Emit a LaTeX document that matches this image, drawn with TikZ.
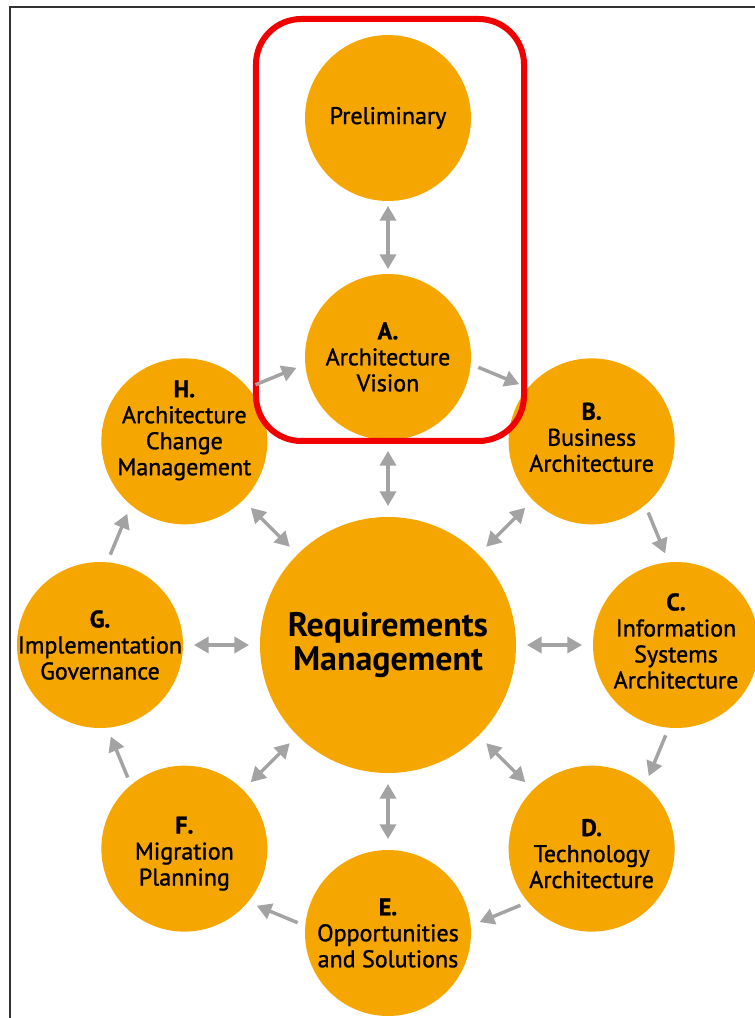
\documentclass[tikz,border=0pt]{standalone}
\usepackage{fontspec}
\setmainfont{PT Sans}
\newfontfamily\phasefont{PT Sans}[FakeBold=1.2]
\usepackage{tikz}
\usetikzlibrary{positioning}
\usetikzlibrary{arrows.meta, calc}

\definecolor{phaseorange}{RGB}{246,166,0}
\definecolor{arrowgray}{RGB}{163,163,163}
\definecolor{focusred}{RGB}{240,0,0}

\tikzset{
    phase/.style={circle, fill=phaseorange, minimum size=124.5pt, inner sep=0pt},
    hub/.style={circle, fill=phaseorange, minimum size=192pt, inner sep=0pt},
    phasetext/.style={align=center, font=\phasefont\fontsize{18}{19.5}\selectfont},
    hubtext/.style={align=center, font=\bfseries\fontsize{25.5}{25.5}\selectfont},
    flow/.style={draw=arrowgray, line width=2.6pt, -{Triangle[length=11pt,width=12pt]},
        shorten <=6pt, shorten >=7pt},
    spoke/.style={draw=arrowgray, line width=2.6pt,
        {Triangle[length=11pt,width=12pt]}-{Triangle[length=11pt,width=12pt]},
        shorten <=8pt, shorten >=8pt}
}

\begin{document}
\begin{tikzpicture}[x=0.75pt, y=0.75pt]
            \useasboundingbox (-388,-373) rectangle (367,645);
            \draw[black!80, line width=1.5pt] (-377.5,-373) -- (-377.5,637.5) -- (367,637.5);

            % hub and the phases round it
            \node[hub] (req) at (0,0) {};
            \node[phase] (pre) at (0,527) {};
            \node[phase] (A) at (90:288) {};
            \node[phase] (B) at (45:288) {};
            \node[phase] (C) at (0:288) {};
            \node[phase] (D) at (-45:288) {};
            \node[phase] (E) at (-90:288) {};
            \node[phase] (F) at (-135:288) {};
            \node[phase] (G) at (180:288) {};
            \node[phase] (H) at (135:288) {};

            \node[hubtext] (reqtext) at (req) {Requirements\\Management};
            \node[phasetext] (pretext) at (pre) {Preliminary};
            \node[phasetext] (Atext) at (A) {\textbf{A.}\\Architecture\\Vision};
            \node[phasetext] (Btext) at ($(B)+(0,4)$) {\textbf{B.}\\Business\\Architecture};
            \node[phasetext] (Ctext) at ($(C)+(0,4)$) {\textbf{C.}\\Information\\Systems\\Architecture};
            \node[phasetext] (Dtext) at ($(D)+(0,-5)$) {\textbf{D.}\\Technology\\Architecture};
            \node[phasetext] (Etext) at (E) {\textbf{E.}\\Opportunities\\and Solutions};
            \node[phasetext] (Ftext) at ($(F)+(0,-5)$) {\textbf{F.}\\Migration\\Planning};
            \node[phasetext] (Gtext) at (G) {\textbf{G.}\\Implementation\\Governance};
            \node[phasetext] (Htext) at ($(H)+(0,11)$) {\textbf{H.}\\Architecture\\Change\\Management};

            % focus frame
            \draw[focusred, line width=4.5pt, rounded corners=34pt] (-132,204) rectangle (136,626);

            % cycle
            \draw[flow] (H.40) -- (A.185);
            \draw[flow] (A.-5) -- (B.140);
            \draw[flow] (B.-50) -- (C.95);
            \draw[flow] (C.-95) -- (D.50);
            \draw[flow] (D.-140) -- (E.5);
            \draw[flow] (E.175) -- (F.-40);
            \draw[flow] (F.130) -- (G.-85);
            \draw[flow] (G.85) -- (H.-130);

            % spokes
            \draw[spoke, shorten <=3.5pt, shorten >=3.5pt] (pre) -- (A);
            \foreach \p in {A,B,C,D,E,F,G,H}
                \draw[spoke] (req) -- (\p);
        \end{tikzpicture}
\end{document}
